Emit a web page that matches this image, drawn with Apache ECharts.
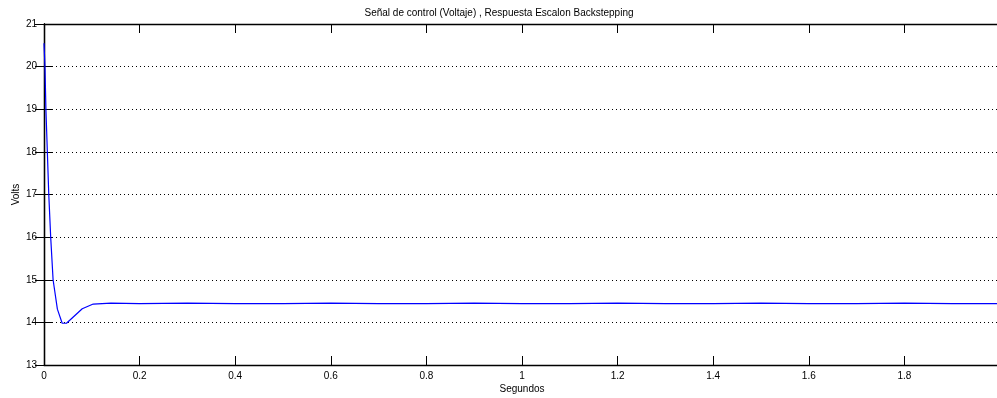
<!DOCTYPE html>
<html>
<head>
<meta charset="utf-8">
<script src="https://cdn.jsdelivr.net/npm/echarts@6/dist/echarts.min.js"></script>
<style>html,body{margin:0;padding:0;background:#fff}#c{width:997px;height:398px}</style>
</head>
<body>
<div id="c"></div>
<script>
const titleText = 'Señal de control (Voltaje) , Respuesta Escalon Backstepping';
const xName = 'Segundos';
const yName = 'Volts';
const timeS = [0, 0.002, 0.004, 0.007, 0.010, 0.014, 0.019, 0.028, 0.038, 0.047, 0.080, 0.103, 0.14, 0.2, 0.3, 0.4, 0.5, 0.6, 0.7, 0.8, 0.9, 1.0, 1.1, 1.2, 1.3, 1.4, 1.5, 1.6, 1.7, 1.8, 1.9, 1.995];
const volts = [20.55, 20.0, 19.0, 18.0, 17.0, 16.0, 15.0, 14.31, 13.98, 13.98, 14.32, 14.43, 14.45, 14.44, 14.45, 14.44, 14.44, 14.45, 14.44, 14.44, 14.45, 14.44, 14.44, 14.45, 14.44, 14.44, 14.45, 14.44, 14.44, 14.45, 14.44, 14.44];
const xTicks = {min: 0, max: 2, step: 0.2};
const yTicks = {min: 13, max: 21, step: 1};

const chart = echarts.init(document.getElementById('c'), null, {renderer: 'canvas'});
const font = 'Liberation Sans, Arial, sans-serif';
const axisLine = {show: true, lineStyle: {color: '#000', width: 1.3}};
chart.setOption({
  animation: false,
  backgroundColor: '#fff',
  title: {
    text: titleText, left: 494, top: 3, textAlign: 'center',
    textStyle: {fontFamily: font, fontSize: 10, fontWeight: 'normal', color: '#000'}
  },
  grid: {left: 44, top: 24, width: 956, height: 341, containLabel: false, outerBoundsMode: 'none'},
  xAxis: [{
    type: 'value', min: xTicks.min, max: xTicks.max, interval: xTicks.step,
    name: xName, nameLocation: 'middle', nameGap: 19, nameMoveOverlap: false,
    nameTextStyle: {fontFamily: font, fontSize: 10, color: '#000'},
    axisLine: axisLine,
    axisTick: {show: true, inside: true, length: 9, lineStyle: {color: '#000', width: 1}},
    axisLabel: {fontFamily: font, fontSize: 10, color: '#000', margin: 6, showMaxLabel: false,
      formatter: v => String(Math.round(v * 10) / 10)},
    splitLine: {show: false}
  }, {
    type: 'value', position: 'top', min: xTicks.min, max: xTicks.max, interval: xTicks.step,
    axisLine: axisLine,
    axisTick: {show: true, inside: true, length: 9, lineStyle: {color: '#000', width: 1}},
    axisLabel: {show: false}, splitLine: {show: false}
  }],
  yAxis: [{
    type: 'value', min: yTicks.min, max: yTicks.max, interval: yTicks.step,
    name: yName, nameLocation: 'middle', nameGap: 23, nameRotate: 90, nameMoveOverlap: false,
    nameTextStyle: {fontFamily: font, fontSize: 10, color: '#000'},
    axisLine: axisLine,
    axisTick: {show: true, inside: true, length: 9, lineStyle: {color: '#000', width: 1}},
    axisLabel: {fontFamily: font, fontSize: 10, color: '#000', margin: 7},
    splitLine: {show: true, lineStyle: {color: '#000', width: 1, type: [1, 3]}}
  }, {
    type: 'value', position: 'right', min: yTicks.min, max: yTicks.max, interval: yTicks.step,
    axisLine: axisLine,
    axisTick: {show: true, inside: true, length: 9, lineStyle: {color: '#000', width: 1}},
    axisLabel: {show: false}, splitLine: {show: false}
  }],
  series: [{
    type: 'line', xAxisIndex: 0, yAxisIndex: 0,
    data: timeS.map((t, i) => [t, volts[i]]),
    showSymbol: false, symbol: 'none',
    lineStyle: {color: '#0000ff', width: 1.2}
  }]
});
</script>
</body>
</html>
